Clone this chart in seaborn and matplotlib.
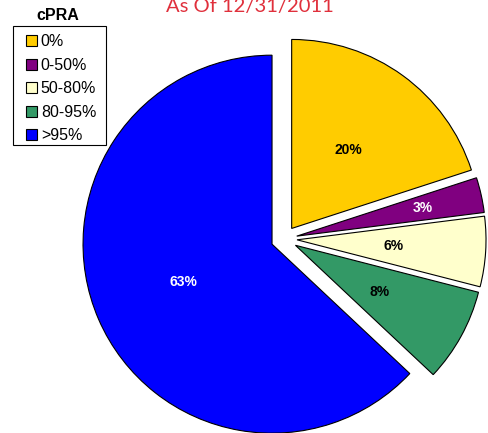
import matplotlib
matplotlib.use("Agg")
import matplotlib.pyplot as plt
import seaborn as sns
from matplotlib.patches import Patch, Rectangle

sns.set_theme(style="white")
plt.rcParams['font.family'] = ['Liberation Sans', 'DejaVu Sans']
plt.rcParams['text.color'] = 'black'

categories = ["0%", "0-50%", "50-80%", "80-95%", ">95%"]
values = [20, 3, 6, 8, 63]
colors = ["#FFCC00", "#800080", "#FFFFCC", "#339966", "#0000FF"]
label_colors = ["black", "white", "black", "black", "white"]
title = "As Of 12/31/2011"
legend_title = "cPRA"

W, H = 489, 433
fig = plt.figure(figsize=(W / 100, H / 100), dpi=100)
R = 189.0
cx, cy = 284.0, 239.0
ax = fig.add_axes([0, 0, 1, 1])

explode = [0.069] * len(values)
wedges, texts, autotexts = ax.pie(
    values, colors=colors, explode=explode, startangle=90, counterclock=False,
    autopct="%d%%", pctdistance=0.51, radius=1.0,
    wedgeprops=dict(edgecolor="black", linewidth=0.8),
    textprops=dict(fontsize=10, fontweight="bold"),
)
ax.set_aspect("auto")
ax.set_xlim(-cx / R, (W - cx) / R)
ax.set_ylim(-(H - cy) / R, cy / R)
ax.axis("off")

for t, c in zip(autotexts, label_colors):
    t.set_color(c)
# purple label sits further out
x, y = autotexts[1].get_position()
autotexts[1].set_position((x * 1.3, y * 1.3))

# legend frame
fig.patches.append(Rectangle((13 / W, 1 - 145 / H), 93 / W, 119 / H,
                             transform=fig.transFigure, facecolor="white",
                             edgecolor="black", linewidth=0.8, zorder=1))
handles = [Patch(facecolor=c, edgecolor="black", linewidth=0.8) for c in colors]
leg = fig.legend(handles, categories, loc="upper left",
                 bbox_to_anchor=(26 / W, 1 - 34.5 / H), fontsize=11.5,
                 frameon=False, handlelength=0.68, handleheight=0.68,
                 handletextpad=0.25, labelspacing=0.53, borderpad=0,
                 borderaxespad=0, labelcolor="black")
leg.set_zorder(3)
fig.text(58 / W, 1 - 15 / H, legend_title, ha="center", va="center",
         fontsize=11.5, fontweight="bold", color="black")

fig.text(250 / W, 1 - 12 / H, title, ha="center", va="baseline",
         fontsize=14.5, color="#E0303C", family=["Lato", "DejaVu Sans"])

fig.savefig("out.png", dpi=100)
